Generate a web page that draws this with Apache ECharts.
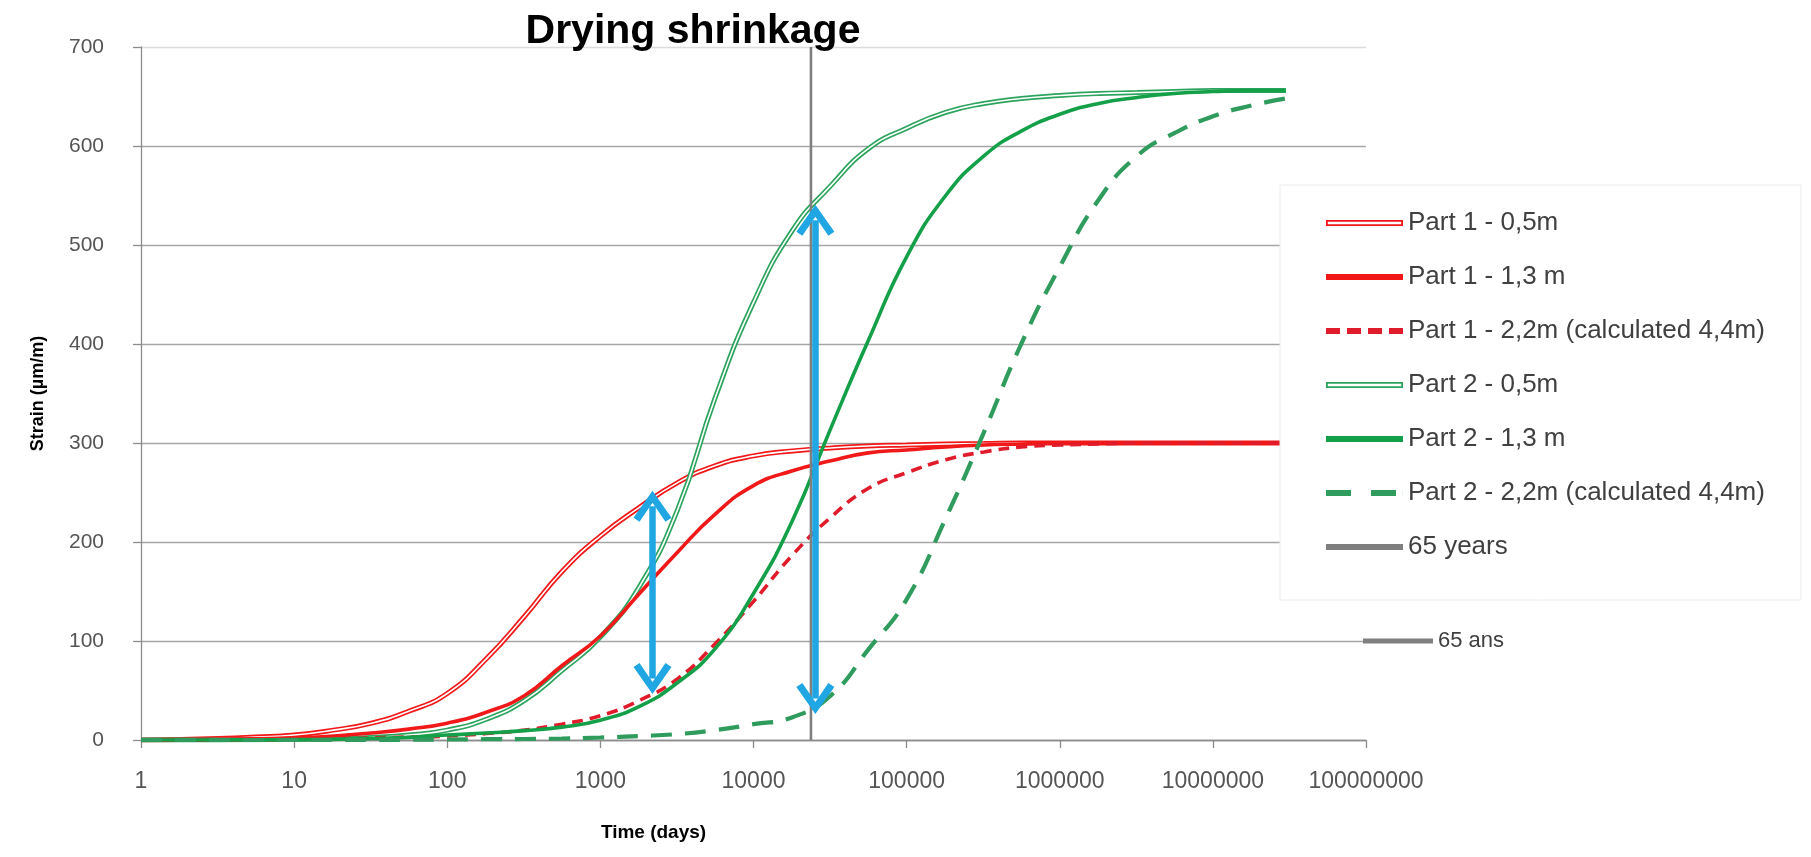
<!DOCTYPE html>
<html><head><meta charset="utf-8">
<script src="https://cdn.jsdelivr.net/npm/echarts@6/dist/echarts.min.js"></script>
<style>html,body{margin:0;padding:0;background:#fff}#c{width:1811px;height:857px}</style>
</head><body><div id="c"></div>
<script>
// ---- data (time in days, strain in µm/m) ----
const days = [1, 1.8, 3.2, 5.6, 10, 18, 32, 56, 100, 180, 320, 560, 1000, 1800, 3200, 5600, 10000, 18000, 32000, 56000, 100000, 180000, 320000, 560000, 1000000, 1800000, 3200000, 5600000, 10000000, 18000000, 30000000];
const part1_05 = [0, 0.5, 1.5, 3, 5, 10, 17, 29, 47, 82, 125, 170, 206, 235, 260, 277, 287, 292, 295, 297, 298, 299, 299.5, 300, 300, 300, 300, 300, 300, 300, 300];
const part1_13 = [0, 0.2, 0.6, 1.2, 2, 4, 7, 11, 17, 28, 45, 75, 105, 148, 190, 228, 257, 272, 282, 290, 293, 296, 298, 299, 300, 300, 300, 300, 300, 300, 300];
const part1_22 = [0, 0, 0.1, 0.3, 0.6, 1, 2, 3, 4, 6.5, 10, 16, 24.5, 40, 62, 97, 140, 187, 225, 254, 270, 283, 291, 296, 298, 299, 300, 300, 300, 300, 300];
const part2_05 = [0, 0, 0.1, 0.3, 0.6, 1.2, 2.5, 5, 10, 21, 40, 70, 104, 155, 233, 345, 442, 515, 560, 597, 618, 634, 643, 648, 651, 653, 654, 655, 656, 656, 656];
const part2_13 = [0, 0, 0.1, 0.2, 0.4, 0.8, 1.5, 2.7, 5, 7, 9.5, 13, 20, 34, 58, 92, 148, 222, 315, 403, 488, 550, 590, 615, 632, 643, 649, 653, 655, 656, 656];
const part2_22 = [0, 0, 0, 0, 0, 0, 0, 0.2, 0.5, 0.8, 1, 1.5, 2.5, 4, 6, 10, 16, 23, 45, 91, 142, 224, 311, 400, 478, 546, 590, 613, 630, 641, 648];
const seriesNames = ['Part 1 - 0,5m', 'Part 1 - 1,3 m', 'Part 1 - 2,2m (calculated 4,4m)', 'Part 2 - 0,5m', 'Part 2 - 1,3 m', 'Part 2 - 2,2m (calculated 4,4m)', '65 years'];
const extraLegend = '65 ans';
const years65Days = 23725;
const yRange = [0, 700];
const xTickLabels = ['1', '10', '100', '1000', '10000', '100000', '1000000', '10000000', '100000000'];
const yTickLabels = ['0', '100', '200', '300', '400', '500', '600', '700'];
const arrowDays = [2190, 25350];
const arrowLow = [62, 42];
const arrowHigh = [236, 525];

function pairs(arr) { return days.map((d, i) => [d, arr[i]]); }

const FONT = 'Liberation Sans';
const RED = '#f01818', RED_D = '#e01c2a', GREEN = '#14a048', GREEN_H = '#2da45e', GREEN_D = '#2f9b5c', GREY = '#7f7f7f', BLUE = '#1fa6e3';
// legend icons (drawn by the legend, scaled to itemWidth x itemHeight)
const iconHollow = 'path://M0,0H77V6H0Z M1.8,1.8V4.2H75.2V1.8Z';
const iconSolid = 'path://M0,0H77V6H0Z';
const iconDashRed = 'path://M0,0H14V6H0Z M21,0H35V6H21Z M42,0H56V6H42Z M63,0H77V6H63Z';
const iconDashGreen = 'path://M0,0H25V6H0Z M45,0H70V6H45Z M76.9,0H77V6H76.9Z';
const chevron = 'path://M19,0 L38,27 L32,31 L19,12 L6,31 L0,27 Z';

function line(name, data, color, width, type) {
  return {
    name: name, type: 'line', data: pairs(data), showSymbol: false, symbol: 'none',
    smooth: 0.5, color: color,
    lineStyle: { color: color, width: width, type: type || 'solid' },
    emphasis: { disabled: true }, silent: true, animation: false
  };
}

const chart = echarts.init(document.getElementById('c'), null, { renderer: 'canvas' });
chart.setOption({
  backgroundColor: '#ffffff',
  textStyle: { fontFamily: FONT },
  animation: false,
  title: {
    text: 'Drying shrinkage', left: 693, top: 11, textAlign: 'center', padding: 0,
    textStyle: { fontFamily: FONT, fontSize: 41, fontWeight: 'bold', color: '#000' }
  },
  grid: { left: 141, right: 445, top: 47, bottom: 117, containLabel: false },
  xAxis: {
    type: 'log', logBase: 10, min: 1, max: 100000000,
    name: 'Time (days)', nameLocation: 'middle', nameGap: 83,
    nameTextStyle: { fontFamily: FONT, fontSize: 19, fontWeight: 'bold', color: '#000', padding: [0, 200, 0, 0] },
    axisLine: { show: true, lineStyle: { color: '#8c8c8c', width: 1.3 } },
    axisTick: { show: true, length: 8, lineStyle: { color: '#8c8c8c', width: 1.3 } },
    minorTick: { show: false },
    splitLine: { show: false },
    axisLabel: {
      margin: 30, fontSize: 23, color: '#555',
      formatter: function (v) { return xTickLabels[Math.round(Math.log10(v))]; }
    }
  },
  yAxis: {
    type: 'value', min: yRange[0], max: yRange[1], interval: 100,
    name: 'Strain (µm/m)', nameLocation: 'middle', nameGap: 94, nameRotate: 90,
    nameTextStyle: { fontFamily: FONT, fontSize: 18, fontWeight: 'bold', color: '#000' },
    axisLine: { show: true, lineStyle: { color: '#8c8c8c', width: 1.3 } },
    axisTick: { show: true, length: 8, lineStyle: { color: '#8c8c8c', width: 1.3 } },
    splitLine: { show: true, lineStyle: { color: ['#8c8c8c', '#a6a6a6', '#a6a6a6', '#a6a6a6', '#a6a6a6', '#a6a6a6', '#a6a6a6', '#dcdcdc'], width: 1.3 } },
    axisLabel: {
      margin: 37, fontSize: 21, color: '#555',
      formatter: function (v) { return yTickLabels[Math.round(v / 100)]; }
    }
  },
  legend: [{
    orient: 'vertical', left: 1280, top: 185,
    padding: [25, 36, 40, 46], itemGap: 28, itemWidth: 77, itemHeight: 6,
    symbolKeepAspect: false,
    backgroundColor: '#ffffff', borderColor: '#ececec', borderWidth: 1,
    selectedMode: false,
    textStyle: { fontFamily: FONT, fontSize: 26, lineHeight: 26, color: '#404040' },
    data: [
      { name: seriesNames[0], icon: iconHollow },
      { name: seriesNames[1], icon: iconSolid },
      { name: seriesNames[2], icon: iconDashRed },
      { name: seriesNames[3], icon: iconHollow },
      { name: seriesNames[4], icon: iconSolid },
      { name: seriesNames[5], icon: iconDashGreen },
      { name: seriesNames[6], icon: iconSolid }
    ]
  }, {
    orient: 'vertical', left: 1363, top: 630, padding: 0,
    itemWidth: 70, itemHeight: 5, symbolKeepAspect: false, selectedMode: false,
    textStyle: { fontFamily: FONT, fontSize: 22, lineHeight: 22, color: '#404040' },
    data: [{ name: extraLegend, icon: iconSolid }]
  }],
  series: [
    line(seriesNames[0], part1_05, RED, 5),
    line('_p1i', part1_05, '#ffffff', 1.6),
    line(seriesNames[3], part2_05, GREEN_H, 5),
    line('_p2i', part2_05, '#ffffff', 1.6),
    line(seriesNames[1], part1_13, RED, 3.6),
    line(seriesNames[2], part1_22, RED_D, 3.6, [11, 7]),
    line(seriesNames[4], part2_13, GREEN, 3.6),
    line(seriesNames[5], part2_22, GREEN_D, 4.2, [21, 13]),
    {
      name: seriesNames[6], type: 'line', data: [[years65Days, yRange[0]], [years65Days, yRange[1]]],
      showSymbol: false, symbol: 'none', color: GREY, lineStyle: { color: GREY, width: 2.6 },
      silent: true, animation: false, z: 3,
      markLine: {
        silent: true, animation: false, symbol: [chevron, chevron], symbolSize: [38, 31],
        label: { show: false },
        lineStyle: { color: BLUE, width: 6.5, type: 'solid' },
        itemStyle: { color: BLUE },
        emphasis: { disabled: true },
        data: arrowDays.map((d, i) => [{ coord: [d, arrowLow[i]] }, { coord: [d, arrowHigh[i]] }])
      }
    },
    {
      name: extraLegend, type: 'line', data: [], symbol: 'none', color: GREY,
      lineStyle: { color: GREY, width: 4.5 }, silent: true
    }
  ]
});
</script></body></html>
